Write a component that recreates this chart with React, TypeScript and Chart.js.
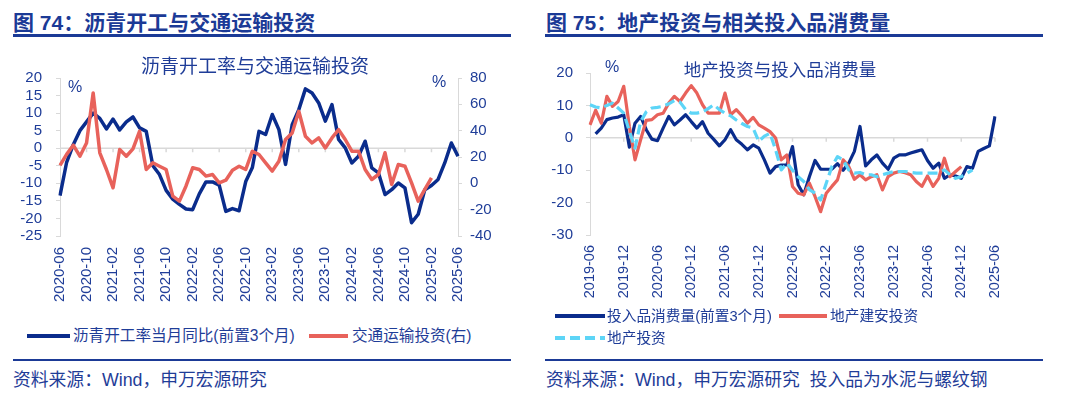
import React, { useEffect, useRef } from "react";
import { Chart, registerables } from "chart.js";
Chart.register(...registerables);

// ---------- Data: left chart (2020-06 .. 2025-06) ----------
const monthsLeft = [
  "2020-06","2020-07","2020-08","2020-09","2020-10","2020-11","2020-12",
  "2021-01","2021-02","2021-03","2021-04","2021-05","2021-06","2021-07","2021-08","2021-09","2021-10","2021-11","2021-12",
  "2022-01","2022-02","2022-03","2022-04","2022-05","2022-06","2022-07","2022-08","2022-09","2022-10","2022-11","2022-12",
  "2023-01","2023-02","2023-03","2023-04","2023-05","2023-06","2023-07","2023-08","2023-09","2023-10","2023-11","2023-12",
  "2024-01","2024-02","2024-03","2024-04","2024-05","2024-06","2024-07","2024-08","2024-09","2024-10","2024-11","2024-12",
  "2025-01","2025-02","2025-03","2025-04","2025-05","2025-06",
];
// 沥青开工率当月同比(前置3个月), left axis %
const asphaltYoY = [
  -13.5, -4, 1, 5, 7.5, 10, 8.5, 5.5, 8.3, 5.2, 7.5, 8.9, 5.8, 4.8, -5, -7.5, -12, -14.5, -16, -17.3,
  -17.5, -13, -9.6, -9.6, -10.5, -18, -17.2, -17.8, -9.5, -5.5, 4.8, 3.9, 9.6, 5.3, -4.6, 6.7, 11, 16.9, 15.7, 12.9,
  7.7, 12.4, 2.5, 0.1, -4.2, -2.3, 2, -5.6, -7, -13.2, -11.8, -9.9, -11.3, -21.2, -18.8, -11.8, -10.6, -8.9, -4.2, 1.5,
  -2.3,
];
// 交通运输投资(右), right axis %
const transportInv = [
  13.6, 22, 29, 20.6, 30.7, 68.6, 23.2, 10.5, -3.4, 25.7, 20.6, 26.2, 39.6, 10.5, 15.6, 13, 10.5, -9.7, -13.5, -2,
  11.8, 10.5, 5.5, 6.7, 0.4, 2.4, 10, 13, 10.5, 24.4, 21.9, 15.6, 9.3, 16.8, 33.3, 38.3, 54.7, 35.8, 30.7, 34.5,
  26.9, 34.5, 40.8, 33.3, 24.4, 24.4, 10.5, 2.9, 6.7, 23.2, -0.8, 14.3, 13, 0.4, -13.5, -4.6, 4.2, null, null, null,
  null,
];
const leftTicksL = [20, 15, 10, 5, 0, -5, -10, -15, -20, -25];
const rightTicksL = [80, 60, 40, 20, 0, -20, -40];

// ---------- Data: right chart (2019-06 .. 2025-06) ----------
const monthsRight = [
  "2019-06","2019-07","2019-08","2019-09","2019-10","2019-11","2019-12",
  "2020-01","2020-02","2020-03","2020-04","2020-05","2020-06","2020-07","2020-08","2020-09","2020-10","2020-11","2020-12",
  "2021-01","2021-02","2021-03","2021-04","2021-05","2021-06","2021-07","2021-08","2021-09","2021-10","2021-11","2021-12",
  "2022-01","2022-02","2022-03","2022-04","2022-05","2022-06","2022-07","2022-08","2022-09","2022-10","2022-11","2022-12",
  "2023-01","2023-02","2023-03","2023-04","2023-05","2023-06","2023-07","2023-08","2023-09","2023-10","2023-11","2023-12",
  "2024-01","2024-02","2024-03","2024-04","2024-05","2024-06","2024-07","2024-08","2024-09","2024-10","2024-11","2024-12",
  "2025-01","2025-02","2025-03","2025-04","2025-05","2025-06",
];
// 投入品消费量(前置3个月)
const inputConsumption = [
  null, 1.2, 3, 5.6, 6.1, 6.4, 7.1, -2.9, 4.5, 6.6, 2.5, -0.4, -0.9, 3, 6.6, 4, 5.5, 7.1, 5, 3,
  5, 1.4, -0.5, -2.5, -0.6, 2.5, -0.6, -2, -3.7, -2.2, -3.2, -6.8, -10.9, -8.9, -8.4, -8.4, -2.7, -14.5, -17.6, -12,
  -7, -9.7, -9.7, -9.7, -8, -10, -7.8, -4.2, 3.5, -8.7, -6.8, -5.3, -7.8, -9.7, -6.3, -5.3, -5.3, -4.7, -4.2, -3.7,
  -7, -9.4, -7.8, -12.5, -11.4, -11.8, -12.5, -8.9, -9.4, -4.2, -3.3, -2.5, 6.6,
];
// 地产建安投资
const constructionInv = [
  4, 8.5, 4.5, 12.8, 9.7, 11.2, 15.9, 3.5, -6.8, -0.6, 5.4, 5.6, 7.1, 7.6, 10.7, 12.8, 11.2, 13.8, 16.1, 13.8,
  10.2, 7.6, 7.6, 7.6, 13.8, 7.1, 8.7, 6.8, 4.5, 6.3, 4, 3, 1.9, -0.1, -6.8, -5.3, -15, -17.1, -17.6, -14,
  -18.1, -22.8, -17.1, -15, -13, -6.8, -8.9, -12.8, -11.4, -13, -12, -11.4, -16.1, -12, -10.9, -10.4, -10.8, -11.4, -13.5, -15,
  -11.8, -15, -12.5, -6.3, -12, -10.4, -8.9, null, null, null, null, null, null,
];
// 地产投资
const realEstateInv = [
  10.2, 9.5, 9.2, 10, 10.7, 9.2, 7.6, 2, -3.2, 5, 8, 9.2, 9.4, 9.7, 10.5, 11.5, 11, 8.7, 7.6, 7.6,
  8, 9, 10.2, 8.7, 7.6, 6.8, 5.5, 4.4, 3.5, 3, -1.1, 0.5, 1.4, -3.7, -9.9, -7.8, -10, -12, -13.5, -16,
  -17.1, -19.2, -14, -8.9, -5.8, -6.8, -9.9, -10.9, -10.7, -11.4, -11.4, -12, -11.4, -10.9, -10.4, -10.4, -10.4, -10.7, -10.9, -10.9,
  -10.9, -10.9, -10.9, -9.9, -11.4, -12.5, -12, -11, -9.9, null, null, null, null,
];
const rightTicksR = [20, 10, 0, -10, -20, -30];

// ---------- Styles ----------
const NAVY = "#1f3d98";
const TITLE = "#1b3a96";
const BLUE = "#0a2c8c";
const RED = "#e8625b";
const CYAN = "#5dd5f7";
const AXIS = "#d9d9d9";
const LATIN = "'Liberation Sans', Arial, 'Noto Sans CJK SC', sans-serif";
const CJK = "'Liberation Sans', 'Noto Sans CJK SC', sans-serif";

const zeroLinePlugin = {
  id: "zeroLine",
  beforeDatasetsDraw(chart: any, _args: any, opts: any) {
    const { ctx, chartArea, scales } = chart;
    const y = scales[opts.yId].getPixelForValue(0);
    ctx.save();
    ctx.strokeStyle = AXIS;
    ctx.lineWidth = 1.5;
    ctx.beginPath();
    ctx.moveTo(chartArea.left, y);
    ctx.lineTo(chartArea.right, y);
    const xs = scales.x;
    const n = chart.data.labels.length;
    for (let i = opts.every; i < n; i += opts.every) {
      const px = xs.getPixelForValue(i);
      ctx.moveTo(px, y);
      ctx.lineTo(px, y + 4);
    }
    ctx.stroke();
    ctx.restore();
  },
};

function tickFont() {
  return { family: LATIN, size: 15 };
}

function LeftChart() {
  const ref = useRef<HTMLCanvasElement | null>(null);
  useEffect(() => {
    const chart = new Chart(ref.current as HTMLCanvasElement, {
      type: "line",
      data: {
        labels: monthsLeft,
        datasets: [
          { label: "沥青开工率当月同比(前置3个月)", data: asphaltYoY, yAxisID: "y", order: 2, borderColor: BLUE, borderWidth: 3.5, pointRadius: 0, borderJoinStyle: "round", tension: 0 },
          { label: "交通运输投资(右)", data: transportInv, yAxisID: "y1", order: 1, borderColor: RED, borderWidth: 3.5, pointRadius: 0, borderJoinStyle: "round", tension: 0 },
        ],
      },
      options: {
        responsive: false,
        animation: false,
        layout: { padding: { top: 38, left: 0, right: 0, bottom: 0 } },
        plugins: { legend: { display: false }, tooltip: { enabled: false }, title: { display: false }, zeroLine: { yId: "y", every: 4 } } as any,
        scales: {
          x: {
            type: "category",
            offset: false,
            grid: { display: false, drawTicks: false },
            border: { display: false },
            ticks: {
              autoSkip: false, minRotation: 90, maxRotation: 90, padding: 11, color: NAVY, font: tickFont(),
              callback: (_v: any, i: number) => (i % 4 === 0 ? monthsLeft[i] : ""),
            },
            afterFit: (s: any) => { s.height = 84; },
          },
          y: {
            position: "left", min: Math.min(...leftTicksL), max: Math.max(...leftTicksL),
            ticks: { stepSize: 5, autoSkip: false, padding: 14, color: NAVY, font: tickFont() },
            grid: { display: true, drawOnChartArea: false, drawTicks: true, tickLength: 4, color: AXIS },
            border: { display: true, color: AXIS },
            afterFit: (s: any) => { s.width = 60; },
          },
          y1: {
            position: "right", min: Math.min(...rightTicksL), max: Math.max(...rightTicksL),
            ticks: { stepSize: 20, autoSkip: false, padding: 8, color: NAVY, font: tickFont() },
            grid: { display: true, drawOnChartArea: false, drawTicks: true, tickLength: 4, color: AXIS },
            border: { display: true, color: AXIS },
            afterFit: (s: any) => { s.width = 82; },
          },
        },
      } as any,
      plugins: [zeroLinePlugin as any],
    });
    return () => chart.destroy();
  }, []);
  return <canvas ref={ref} width={540} height={280} style={{ position: "absolute", left: 0, top: 40, width: 540, height: 280 }} />;
}

function RightChart() {
  const ref = useRef<HTMLCanvasElement | null>(null);
  useEffect(() => {
    const common = { pointRadius: 0, borderJoinStyle: "round", tension: 0, borderWidth: 3.2 };
    const chart = new Chart(ref.current as HTMLCanvasElement, {
      type: "line",
      data: {
        labels: monthsRight,
        datasets: [
          { label: "地产投资", data: realEstateInv, borderColor: CYAN, borderDash: [10, 5], ...common },
          { label: "地产建安投资", data: constructionInv, borderColor: RED, ...common },
          { label: "投入品消费量(前置3个月)", data: inputConsumption, borderColor: BLUE, ...common },
        ],
      },
      options: {
        responsive: false,
        animation: false,
        layout: { padding: { top: 33, left: 0, right: 85, bottom: 0 } },
        plugins: { legend: { display: false }, tooltip: { enabled: false }, title: { display: false }, zeroLine: { yId: "y", every: 6 } } as any,
        scales: {
          x: {
            type: "category",
            offset: false,
            grid: { display: false, drawTicks: false },
            border: { display: false },
            ticks: {
              autoSkip: false, minRotation: 90, maxRotation: 90, padding: 10, color: NAVY, font: { family: LATIN, size: 14.5 },
              callback: (_v: any, i: number) => (i % 6 === 0 ? monthsRight[i] : ""),
            },
            afterFit: (s: any) => { s.height = 85; },
          },
          y: {
            position: "left", min: Math.min(...rightTicksR), max: Math.max(...rightTicksR),
            ticks: { stepSize: 10, autoSkip: false, padding: 13, color: NAVY, font: tickFont() },
            grid: { display: true, drawOnChartArea: false, drawTicks: true, tickLength: 4, color: AXIS },
            border: { display: true, color: AXIS },
            afterFit: (s: any) => { s.width = 50; },
          },
        },
      } as any,
      plugins: [zeroLinePlugin as any],
    });
    return () => chart.destroy();
  }, []);
  return <canvas ref={ref} width={540} height={280} style={{ position: "absolute", left: 540, top: 40, width: 540, height: 280 }} />;
}

function Txt(props: { x: number; cy: number; size: number; children: any; bold?: boolean; center?: boolean; color?: string }) {
  const { x, cy, size, children, bold, center, color } = props;
  return (
    <div
      style={{
        position: "absolute",
        left: x,
        top: cy - size / 2,
        fontSize: size,
        lineHeight: `${size}px`,
        fontFamily: CJK,
        fontWeight: bold ? 700 : 400,
        color: color || NAVY,
        whiteSpace: "pre",
        transform: center ? "translateX(-50%)" : undefined,
      }}
    >
      {children}
    </div>
  );
}

function Rule(props: { x: number; y: number; w: number; h: number }) {
  return <div style={{ position: "absolute", left: props.x, top: props.y, width: props.w, height: props.h, background: TITLE }} />;
}

function LegendLine(props: { x1: number; x2: number; y: number; color: string; dash?: string }) {
  const { x1, x2, y, color, dash } = props;
  return (
    <svg style={{ position: "absolute", left: 0, top: 0, overflow: "visible" }} width={1} height={1}>
      <line x1={x1} x2={x2} y1={y} y2={y} stroke={color} strokeWidth={4} strokeDasharray={dash} />
    </svg>
  );
}

export default function App() {
  return (
    <div style={{ position: "absolute", left: 0, top: 0, width: 1080, height: 398, background: "#ffffff", overflow: "hidden" }}>
      {/* Left panel */}
      <Txt x={13} cy={22} size={21} bold color={TITLE}>图 74：沥青开工与交通运输投资</Txt>
      <Rule x={13} y={34} w={498} h={2.5} />
      <LeftChart />
      <Txt x={255} cy={66} size={19} center>沥青开工率与交通运输投资</Txt>
      <Txt x={68} cy={86.5} size={16}>%</Txt>
      <Txt x={432} cy={81.5} size={16}>%</Txt>
      <LegendLine x1={27} x2={70} y={336} color={BLUE} />
      <Txt x={73} cy={336} size={15.6}>沥青开工率当月同比(前置3个月)</Txt>
      <LegendLine x1={309} x2={348} y={336} color={RED} />
      <Txt x={352} cy={336} size={15.6}>交通运输投资(右)</Txt>
      <Rule x={13} y={358.5} w={498} h={2.5} />
      <Txt x={13} cy={380.5} size={17.8}>资料来源：Wind，申万宏源研究</Txt>

      {/* Right panel */}
      <Txt x={546} cy={22} size={21} bold color={TITLE}>图 75：地产投资与相关投入品消费量</Txt>
      <Rule x={545} y={34} w={498} h={2.5} />
      <RightChart />
      <Txt x={780} cy={70.5} size={17.5} center>地产投资与投入品消费量</Txt>
      <Txt x={605} cy={66.5} size={16}>%</Txt>
      <LegendLine x1={555} x2={605} y={316} color={BLUE} />
      <Txt x={607} cy={316} size={14.7}>投入品消费量(前置3个月)</Txt>
      <LegendLine x1={779} x2={827} y={316} color={RED} />
      <Txt x={830} cy={316} size={14.7}>地产建安投资</Txt>
      <LegendLine x1={555} x2={605} y={338} color={CYAN} dash="10 5" />
      <Txt x={607} cy={338} size={14.7}>地产投资</Txt>
      <Rule x={545} y={358.5} w={498} h={2.5} />
      <Txt x={546} cy={380.5} size={17.8}>{"资料来源：Wind，申万宏源研究  投入品为水泥与螺纹钢"}</Txt>
    </div>
  );
}
